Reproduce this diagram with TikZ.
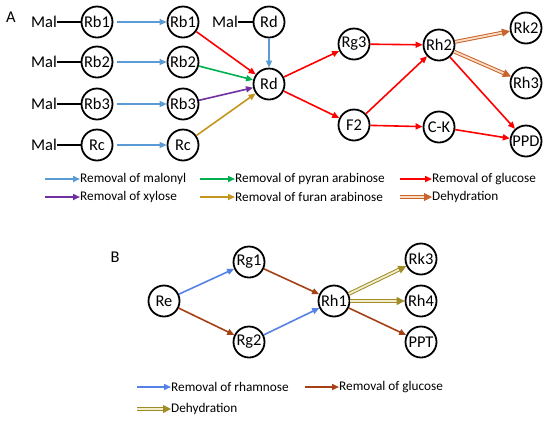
\documentclass[tikz,border=0pt]{standalone}
\usepackage{fontspec}
\setmainfont{Carlito}
\usetikzlibrary{arrows.meta}
\definecolor{cmal}{RGB}{91,155,213}
\definecolor{cgreen}{RGB}{0,176,80}
\definecolor{cred}{RGB}{255,0,0}
\definecolor{cpurple}{RGB}{112,48,160}
\definecolor{cgold}{RGB}{196,150,30}
\definecolor{cdehA}{RGB}{200,100,45}
\definecolor{cdehAin}{RGB}{252,220,195}
\definecolor{crham}{RGB}{85,130,230}
\definecolor{cglcB}{RGB}{165,65,20}
\definecolor{cdehB}{RGB}{160,140,40}
\definecolor{cdehBin}{RGB}{242,238,205}
\begin{document}
\begin{tikzpicture}[x=1bp,y=-1bp,
  mol/.style={circle,draw,line width=1.8bp,minimum size=31bp,inner sep=0pt,font=\fontsize{16.5}{16.5}\selectfont},
  lab/.style={inner sep=0pt,font=\fontsize{16.5}{16.5}\selectfont},
  leg/.style={inner sep=0pt,anchor=west,font=\fontsize{13.3}{13.3}\selectfont},
  arr/.style={draw=#1,line width=1.6bp,-{Triangle[length=7bp,width=6bp]}},
  deh/.style={draw=#1,line width=1bp,double=#1in,double distance=1.8bp,-{Triangle[length=8bp,width=8bp]}},
  link/.style={draw=black,line width=1.2bp},
]
\useasboundingbox (0,0) rectangle (550,422);
% panel labels
\node[lab] (A) at (11,17) {A};
\node[lab] (B) at (115,257) {B};
% Panel A nodes
\node[lab,anchor=east] (m1) at (57,22) {Mal};
\node[lab,anchor=east] (m2) at (57,62) {Mal};
\node[lab,anchor=east] (m3) at (57,104) {Mal};
\node[lab,anchor=east] (m4) at (57,145) {Mal};
\node[mol] (b1) at (97,22) {Rb1};
\node[mol] (b2) at (97,62) {Rb2};
\node[mol] (b3) at (97,104) {Rb3};
\node[mol] (c1) at (97,145) {Rc};
\node[mol] (b1r) at (183,22) {Rb1};
\node[mol] (b2r) at (183,62) {Rb2};
\node[mol] (b3r) at (183,104) {Rb3};
\node[mol] (c1r) at (183,145) {Rc};
\node[lab,anchor=east] (m5) at (238,22) {Mal};
\node[mol] (rdt) at (269,22) {Rd};
\node[mol] (rd) at (269,84) {Rd};
\node[mol] (rg3) at (354,44) {Rg3};
\node[mol] (f2) at (354,125) {F2};
\node[mol] (rh2) at (439,45) {Rh2};
\node[mol] (ck) at (439,127) {C-K};
\node[mol] (rk2) at (526,28) {Rk2};
\node[mol] (rh3) at (526,83) {Rh3};
\node[mol] (ppd) at (526,141) {PPD};
% links
\draw[link] (m1) -- (b1);
\draw[link] (m2) -- (b2);
\draw[link] (m3) -- (b3);
\draw[link] (m4) -- (c1);
\draw[link] (m5) -- (rdt);
\draw[arr=cmal,shorten <=4bp] (b1) -- (b1r);
\draw[arr=cmal,shorten <=4bp] (b2) -- (b2r);
\draw[arr=cmal,shorten <=4bp] (b3) -- (b3r);
\draw[arr=cmal,shorten <=4bp] (c1) -- (c1r);
\draw[arr=cmal] (rdt) -- (rd);
\draw[arr=cred] (b1r) -- (rd);
\draw[arr=cgreen] (b2r) -- (rd);
\draw[arr=cpurple] (b3r) -- (rd);
\draw[arr=cgold] (c1r) -- (rd);
\draw[arr=cred] (rd) -- (rg3);
\draw[arr=cred] (rd) -- (f2);
\draw[arr=cred] (rg3) -- (rh2);
\draw[arr=cred] (f2) -- (rh2);
\draw[arr=cred] (f2) -- (ck);
\draw[arr=cred] (rh2) -- (ppd);
\draw[arr=cred] (ck) -- (ppd);
\draw[deh=cdehA] (rh2) -- (rk2);
\draw[deh=cdehA] (rh2) -- (rh3);
% legend A
\coordinate (la1s) at (45,179); \coordinate (la1e) at (80,179);
\coordinate (la2s) at (200,179); \coordinate (la2e) at (235,179);
\coordinate (la3s) at (400,179); \coordinate (la3e) at (432,179);
\coordinate (la4s) at (45,197); \coordinate (la4e) at (80,197);
\coordinate (la5s) at (200,197); \coordinate (la5e) at (235,197);
\coordinate (la6s) at (400,197); \coordinate (la6e) at (432,197);
\draw[arr=cmal] (la1s) -- (la1e);
\draw[arr=cgreen] (la2s) -- (la2e);
\draw[arr=cred] (la3s) -- (la3e);
\draw[arr=cpurple] (la4s) -- (la4e);
\draw[arr=cgold] (la5s) -- (la5e);
\draw[deh=cdehA] (la6s) -- (la6e);
\node[leg] (t1) at (la1e) {Removal of malonyl};
\node[leg] (t2) at (la2e) {Removal of pyran arabinose};
\node[leg] (t3) at (la3e) {Removal of glucose};
\node[leg] (t4) at (la4e) {Removal of xylose};
\node[leg] (t5) at (la5e) {Removal of furan arabinose};
\node[leg] (t6) at (la6e) {Dehydration};
% Panel B nodes
\node[mol] (re) at (164,301) {Re};
\node[mol] (rg1) at (249,262) {Rg1};
\node[mol] (rg2) at (249,342) {Rg2};
\node[mol] (rh1) at (334,301) {Rh1};
\node[mol] (rk3) at (421,259) {Rk3};
\node[mol] (rh4) at (421,301) {Rh4};
\node[mol] (ppt) at (421,342) {PPT};
\draw[arr=crham] (re) -- (rg1);
\draw[arr=cglcB] (re) -- (rg2);
\draw[arr=cglcB] (rg1) -- (rh1);
\draw[arr=crham] (rg2) -- (rh1);
\draw[deh=cdehB] (rh1) -- (rk3);
\draw[deh=cdehB] (rh1) -- (rh4);
\draw[arr=cglcB] (rh1) -- (ppt);
% legend B
\coordinate (lb1s) at (137,387); \coordinate (lb1e) at (171,387);
\coordinate (lb2s) at (305,387); \coordinate (lb2e) at (339,387);
\coordinate (lb3s) at (137,409); \coordinate (lb3e) at (171,409);
\draw[arr=crham] (lb1s) -- (lb1e);
\draw[arr=cglcB] (lb2s) -- (lb2e);
\draw[deh=cdehB] (lb3s) -- (lb3e);
\node[leg] (u1) at (lb1e) {Removal of rhamnose};
\node[leg] (u2) at (lb2e) {Removal of glucose};
\node[leg] (u3) at (lb3e) {Dehydration};
\end{tikzpicture}
\end{document}
